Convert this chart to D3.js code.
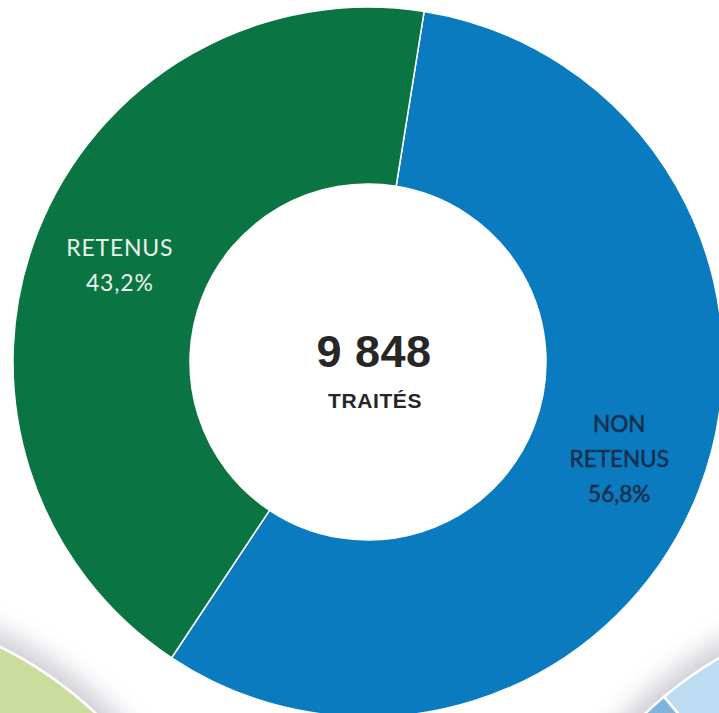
<!DOCTYPE html>
<html>
<head>
<meta charset="utf-8">
<script src="https://cdn.jsdelivr.net/npm/d3@7"></script>
<style>
  body { margin: 0; background: #fff; }
  svg { display: block; }
</style>
</head>
<body>
<div id="graph"></div>
<script>
const w = 719;
const h = 713;

// chart values
const categories = ["NON RETENUS", "RETENUS"];
const labelLines = [["NON", "RETENUS", "56,8%"], ["RETENUS", "43,2%"]];
const shares = [56.8, 43.2];
const total = "9 848";
const totalLabel = "TRAITÉS";

// neighbouring donuts of the infographic, only their edges show
const leftShares = [100];
const rightShares = [20, 80];

const colors = ["#0b7bc0", "#0b7443"];
const textColors = ["#17304f", "#e8f3ec"];

const cx = 368, cy = 362;
const outerR = 355, innerR = 178;
const start = 9.1 * Math.PI / 180;

const svg = d3.select("#graph").
append("svg").
attr("width", w).
attr("height", h);

const defs = svg.append("defs");
defs.append("filter").
attr("id", "shadow").
attr("x", "-50%").attr("y", "-50%").attr("width", "200%").attr("height", "200%").
append("feGaussianBlur").
attr("stdDeviation", 12);

// side donuts (partly off the page)
function sideDonut(x, y, r, data, fills, startA) {
  const g = svg.append("g").attr("transform", "translate(" + x + "," + y + ")");
  g.append("circle").
  attr("r", r + 14).
  attr("fill", "#b9b9c4").
  attr("opacity", 0.7).
  attr("filter", "url(#shadow)");
  const p = d3.pie().sort(null).startAngle(startA).endAngle(startA + 2 * Math.PI);
  const a = d3.arc().innerRadius(0).outerRadius(r);
  g.selectAll("path").
  data(p(data)).
  enter().
  append("path").
  attr("d", a).
  attr("fill", (d, i) => fills[i]).
  attr("stroke", "#fff").
  attr("stroke-width", 2.5);
}

sideDonut(-178, 1005, 400, leftShares, ["#cadd9c"], 0);
sideDonut(922, 1005, 402, rightShares, ["#80b4dd", "#bddbf1"], 4.33);

// main donut
const pie = d3.pie().
sort(null).
startAngle(start).
endAngle(start + 2 * Math.PI);

const arc = d3.arc().
innerRadius(innerR).
outerRadius(outerR);

const g = svg.append("g").
attr("transform", "translate(" + cx + "," + cy + ")");

const slices = pie(shares);

g.selectAll("path").
data(slices).
enter().
append("path").
attr("d", arc).
attr("fill", (d, i) => colors[i]).
attr("stroke", "#fff").
attr("stroke-width", 1.5);

slices.forEach(function (d, i) {
  const c = arc.centroid(d);
  const lines = labelLines[i];
  const t = g.append("text").
  attr("text-anchor", "middle").
  attr("font-family", "Lato, 'Open Sans', sans-serif").
  attr("font-size", i == 0 ? 22.5 : 23).
  attr("fill", textColors[i]).
  attr("stroke", i == 0 ? textColors[i] : "none").
  attr("stroke-width", 0.6).
  attr("letter-spacing", i == 1 ? 0.8 : 0);
  lines.forEach(function (l, j) {
    t.append("tspan").
    attr("x", c[0] + (i == 0 ? 3 : 0)).
    attr("y", c[1] + (j - (lines.length - 1) / 2) * 35 + 8.5).
    text(l);
  });
});

g.append("text").
attr("x", 6).
attr("y", 5).
attr("text-anchor", "middle").
attr("font-family", "'Liberation Sans', Arial, sans-serif").
attr("font-weight", "bold").
attr("font-size", 45).
attr("letter-spacing", 0.5).
attr("fill", "#262626").
text(total);

g.append("text").
attr("x", 7).
attr("y", 46).
attr("text-anchor", "middle").
attr("font-family", "'Liberation Sans', Arial, sans-serif").
attr("font-weight", "bold").
attr("font-size", 21).
attr("letter-spacing", 0.6).
attr("fill", "#262626").
text(totalLabel);
</script>
</body>
</html>
